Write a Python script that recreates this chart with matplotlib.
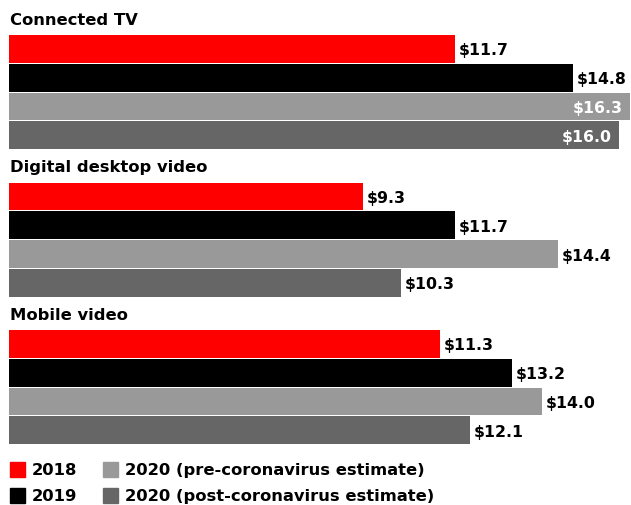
import numpy as np
import matplotlib as mpl
mpl.use('Agg')
import matplotlib.pyplot as plt
from matplotlib.patches import Rectangle

# Dados (bilhões de US$)
categorias = ['Connected TV', 'Digital desktop video', 'Mobile video']
series = ['2018', '2019', '2020 (pre-coronavirus estimate)', '2020 (post-coronavirus estimate)']
valores_2018 = [11.7, 9.3, 11.3]
valores_2019 = [14.8, 11.7, 13.2]
valores_2020_pre = [16.3, 14.4, 14.0]
valores_2020_pos = [16.0, 10.3, 12.1]
cores = ['#ff0000', '#000000', '#999999', '#666666']

plt.rcParams['font.family'] = ['DejaVu Sans']

W, H = 631, 506
fig = plt.figure(figsize=(W / 100, H / 100), dpi=100)
# eixo em pixels no y, valores no x
esq = 9
escala = 38.1  # px por unidade
ax = fig.add_axes([esq / W, 0, 1 - esq / W, 1])
ax.set_xlim(0, (W - esq) / escala)
ax.set_ylim(H, 0)
ax.axis('off')

todos = [valores_2018, valores_2019, valores_2020_pre, valores_2020_pos]
altura = 28.8
topo0 = 35.5
passo_grupo = 147.5

for g, cat in enumerate(categorias):
    topo = topo0 + g * passo_grupo
    ax.text(0.03, topo - 8, cat, fontsize=11.8, fontweight='bold', va='bottom', ha='left')
    for s, vals in enumerate(todos):
        y = topo + s * altura + altura / 2
        v = vals[g]
        ax.barh(y, v, height=altura - 1, color=cores[s])
        fim = v * escala + esq
        if fim + 52 > W:
            ax.text(v - 0.18, y + 1, f'${v:.1f}', color='white', fontsize=11.3,
                    fontweight='bold', va='center', ha='right')
        else:
            ax.text(v + 0.1, y + 1, f'${v:.1f}', color='black', fontsize=11.3,
                    fontweight='bold', va='center', ha='left')

# Legenda manual em pixels
axl = fig.add_axes([0, 0, 1, 1], facecolor='none')
axl.set_xlim(0, W)
axl.set_ylim(H, 0)
axl.axis('off')
col_x = [10, 103]
lin_y = [470, 496]
for s, nome in enumerate(series):
    cx = col_x[s // 2]
    cy = lin_y[s % 2]
    axl.add_patch(Rectangle((cx, cy - 7.5), 15, 15, color=cores[s]))
    axl.text(cx + 22, cy + 0.5, nome, fontsize=11.8, fontweight='bold', va='center', ha='left')

plt.savefig('out.png', dpi=100)
plt.close()
